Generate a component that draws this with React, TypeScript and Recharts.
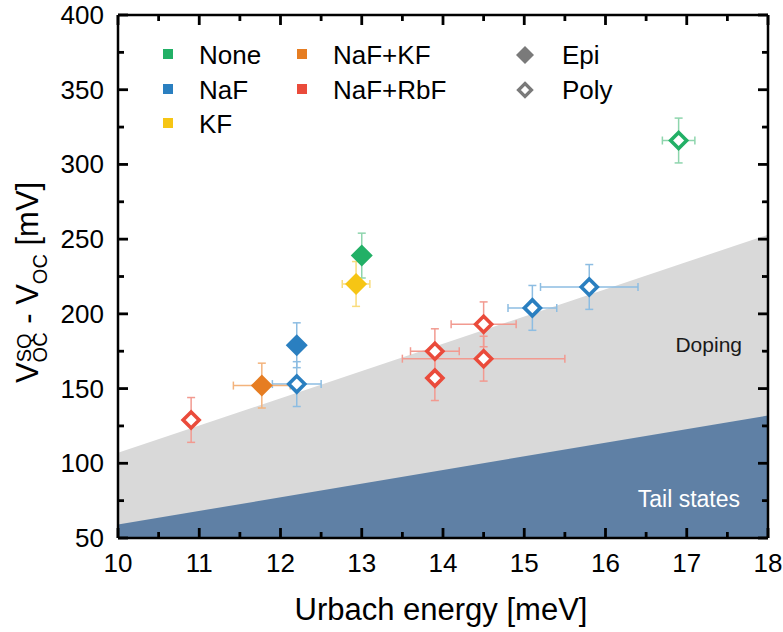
import React from "react";
import {
  ComposedChart,
  Area,
  Scatter,
  ErrorBar,
  XAxis,
  YAxis,
} from "recharts";

// loss regions (upper bound of each band, mV) at the ends of the x range
const regionX = [10, 18];
const dopingTop = [107, 253];
const tailTop = [59, 132];

// measured points: Urbach energy (meV), Voc deficit (mV), errors
const noneEpi = [{ x: 13.0, y: 239, ex: 0, ey: 15 }];
const nonePoly = [{ x: 16.9, y: 316, ex: 0.2, ey: 15 }];
const nafEpi = [{ x: 12.2, y: 179, ex: 0, ey: 15 }];
const nafPoly = [
  { x: 12.2, y: 153, ex: 0.3, ey: 15 },
  { x: 15.1, y: 204, ex: 0.3, ey: 15 },
  { x: 15.8, y: 218, ex: 0.6, ey: 15 },
];
const kfEpi = [{ x: 12.93, y: 220, ex: 0.17, ey: 15 }];
const nafKfEpi = [{ x: 11.77, y: 152, ex: 0.35, ey: 15 }];
const nafRbfPoly = [
  { x: 10.9, y: 129, ex: 0, ey: 15 },
  { x: 13.9, y: 175, ex: 0.3, ey: 15 },
  { x: 13.9, y: 157, ex: 0, ey: 15 },
  { x: 14.5, y: 193, ex: 0.4, ey: 15 },
  { x: 14.5, y: 170, ex: 1.0, ey: 15 },
];

const xMajor = [10, 11, 12, 13, 14, 15, 16, 17, 18];
const xMinor = [10.5, 11.5, 12.5, 13.5, 14.5, 15.5, 16.5, 17.5];
const yMajor = [50, 100, 150, 200, 250, 300, 350, 400];
const yMinor = [75, 125, 175, 225, 275, 325, 375];

const GREEN = "#22b066";
const BLUE = "#2a7fc0";
const YELLOW = "#f6c514";
const ORANGE = "#e67d22";
const RED = "#ea4b3b";

const regions = regionX.map((x, i) => ({ x, doping: dopingTop[i], tail: tailTop[i] }));

// plot frame (both chart layers use it)
const PL = 118;
const PR = 768;
const PT = 15;
const PB = 538;
const sx = (v: number) => PL + ((v - 10) / 8) * (PR - PL);
const sy = (v: number) => PB - ((v - 50) / 350) * (PB - PT);

const diamond = (color: string, hollow: boolean) => (p: any) => {
  const { cx, cy } = p;
  if (cx == null || cy == null) return <g />;
  const r = hollow ? 8 : 11;
  const d = `M${cx},${cy - r}L${cx + r},${cy}L${cx},${cy + r}L${cx - r},${cy}Z`;
  return hollow ? (
    <path d={d} fill="#fff" stroke={color} strokeWidth={3.6} strokeLinejoin="miter" />
  ) : (
    <path d={d} fill={color} stroke="none" />
  );
};

const axisLine = { stroke: "#000", strokeWidth: 2.5 };

const bottomLabel = (p: any) => (
  <text x={p.x} y={p.y + 34} textAnchor="middle" fontSize={26} fill="#000">
    {p.payload.value}
  </text>
);
const leftLabel = (p: any) => (
  <text x={p.x - 14} y={p.y + 9} textAnchor="end" fontSize={26} fill="#000">
    {p.payload.value}
  </text>
);

function Series({ data, color, light, hollow }: any) {
  return (
    <Scatter
      xAxisId="b"
      yAxisId="l"
      data={data}
      fill={color}
      shape={diamond(color, hollow)}
      isAnimationActive={false}
    >
      <ErrorBar dataKey="ey" direction="y" width={4} stroke={light} strokeWidth={1.5} />
      <ErrorBar dataKey="ex" direction="x" width={4} stroke={light} strokeWidth={1.5} />
    </Scatter>
  );
}

const layer: React.CSSProperties = { position: "absolute", left: 0, top: 0 };

export default function App() {
  const legendRows = [64, 99, 133];
  return (
    <div
      style={{
        position: "absolute",
        left: 0,
        top: 0,
        width: 783,
        height: 632,
        background: "#fff",
        fontFamily: "'Liberation Sans', Arial, sans-serif",
      }}
    >
      {/* shaded loss regions */}
      <div style={layer}>
        <ComposedChart
          width={783}
          height={632}
          data={regions}
          margin={{ top: PT, right: 783 - PR, bottom: 632 - PB, left: PL }}
        >
          <XAxis xAxisId="b" type="number" dataKey="x" domain={[10, 18]} allowDataOverflow hide />
          <YAxis yAxisId="l" type="number" domain={[50, 400]} allowDataOverflow hide />
          <Area
            xAxisId="b"
            yAxisId="l"
            type="linear"
            dataKey="doping"
            stroke="none"
            fill="#d9d9d9"
            fillOpacity={1}
            activeDot={false}
            isAnimationActive={false}
          />
          <Area
            xAxisId="b"
            yAxisId="l"
            type="linear"
            dataKey="tail"
            stroke="none"
            fill="#5f80a5"
            fillOpacity={1}
            activeDot={false}
            isAnimationActive={false}
          />
        </ComposedChart>
      </div>

      {/* frame, tick labels and measured points */}
      <div style={layer}>
        <ComposedChart
          width={783}
          height={632}
          margin={{ top: PT - 1, right: 783 - PR - 1, bottom: 632 - PB - 1, left: PL - 1 }}
        >
          <XAxis
            xAxisId="b"
            type="number"
            dataKey="x"
            domain={[10, 18]}
            ticks={xMajor}
            interval={0}
            allowDataOverflow
            orientation="bottom"
            height={1}
            tickSize={0}
            tickMargin={0}
            axisLine={axisLine}
            tickLine={false}
            tick={bottomLabel}
          />
          <XAxis
            xAxisId="t"
            type="number"
            domain={[10, 18]}
            allowDataOverflow
            orientation="top"
            height={1}
            axisLine={axisLine}
            tickLine={false}
            tick={false}
          />
          <YAxis
            yAxisId="l"
            type="number"
            dataKey="y"
            domain={[50, 400]}
            ticks={yMajor}
            interval={0}
            allowDataOverflow
            orientation="left"
            width={1}
            tickSize={0}
            tickMargin={0}
            axisLine={axisLine}
            tickLine={false}
            tick={leftLabel}
          />
          <YAxis
            yAxisId="r"
            type="number"
            domain={[50, 400]}
            allowDataOverflow
            orientation="right"
            width={1}
            axisLine={axisLine}
            tickLine={false}
            tick={false}
          />
          {Series({ data: noneEpi, color: GREEN, light: "#8ed5ad", hollow: false })}
          {Series({ data: nonePoly, color: GREEN, light: "#8ed5ad", hollow: true })}
          {Series({ data: nafEpi, color: BLUE, light: "#8dbde2", hollow: false })}
          {Series({ data: nafPoly, color: BLUE, light: "#8dbde2", hollow: true })}
          {Series({ data: kfEpi, color: YELLOW, light: "#f9dc7c", hollow: false })}
          {Series({ data: nafKfEpi, color: ORANGE, light: "#f3b37c", hollow: false })}
          {Series({ data: nafRbfPoly, color: RED, light: "#f29a90", hollow: true })}
        </ComposedChart>
      </div>

      <svg width={783} height={632} style={{ ...layer, pointerEvents: "none" }}>
        {/* inward ticks on all four sides */}
        <g stroke="#000" strokeWidth={2.8}>
          {xMajor.map((v) => (
            <g key={`xM${v}`}>
              <line x1={sx(v)} x2={sx(v)} y1={PB} y2={PB - 10} />
              <line x1={sx(v)} x2={sx(v)} y1={PT} y2={PT + 10} />
            </g>
          ))}
          {xMinor.map((v) => (
            <g key={`xm${v}`}>
              <line x1={sx(v)} x2={sx(v)} y1={PB} y2={PB - 6} />
              <line x1={sx(v)} x2={sx(v)} y1={PT} y2={PT + 6} />
            </g>
          ))}
          {yMajor.map((v) => (
            <g key={`yM${v}`}>
              <line x1={PL} x2={PL + 10} y1={sy(v)} y2={sy(v)} />
              <line x1={PR} x2={PR - 10} y1={sy(v)} y2={sy(v)} />
            </g>
          ))}
          {yMinor.map((v) => (
            <g key={`ym${v}`}>
              <line x1={PL} x2={PL + 6} y1={sy(v)} y2={sy(v)} />
              <line x1={PR} x2={PR - 6} y1={sy(v)} y2={sy(v)} />
            </g>
          ))}
        </g>

        {/* legend: treatments */}
        {[
          ["None", GREEN],
          ["NaF", BLUE],
          ["KF", YELLOW],
        ].map(([t, c], i) => (
          <g key={t}>
            <rect x={163} y={legendRows[i] - 15} width={10} height={10} fill={c} />
            <text x={199} y={legendRows[i]} fontSize={26} fill="#000">
              {t}
            </text>
          </g>
        ))}
        {[
          ["NaF+KF", ORANGE],
          ["NaF+RbF", RED],
        ].map(([t, c], i) => (
          <g key={t}>
            <rect x={297} y={legendRows[i] - 15} width={10} height={10} fill={c} />
            <text x={333} y={legendRows[i]} fontSize={26} fill="#000">
              {t}
            </text>
          </g>
        ))}
        {/* legend: absorber type */}
        <path d="M525,46L534,55L525,64L516,55Z" fill="#7a7a7a" />
        <text x={562} y={64} fontSize={26} fill="#000">
          Epi
        </text>
        <path d="M525,83.5L531.5,90L525,96.5L518.5,90Z" fill="#fff" stroke="#7a7a7a" strokeWidth={3.2} />
        <text x={562} y={99} fontSize={26} fill="#000">
          Poly
        </text>

        {/* region labels */}
        <text x={742} y={352} fontSize={21} fill="#1a1a1a" textAnchor="end">
          Doping
        </text>
        <text x={740} y={507} fontSize={23} fill="#fff" textAnchor="end">
          Tail states
        </text>

        {/* axis titles */}
        <text x={441} y={620} fontSize={31} fill="#000" textAnchor="middle">
          Urbach energy [meV]
        </text>
        <g transform="translate(38,279) rotate(-90)">
          <text x={-104} y={0} fontSize={31} fill="#000">
            V
            <tspan fontSize={20} dy={-7}>SQ</tspan>
            <tspan fontSize={20} dx={-29} dy={16}>OC</tspan>
            <tspan dy={-9}> - V</tspan>
            <tspan fontSize={20} dy={9}>OC</tspan>
            <tspan dy={-9}> [mV]</tspan>
          </text>
        </g>
      </svg>
    </div>
  );
}
